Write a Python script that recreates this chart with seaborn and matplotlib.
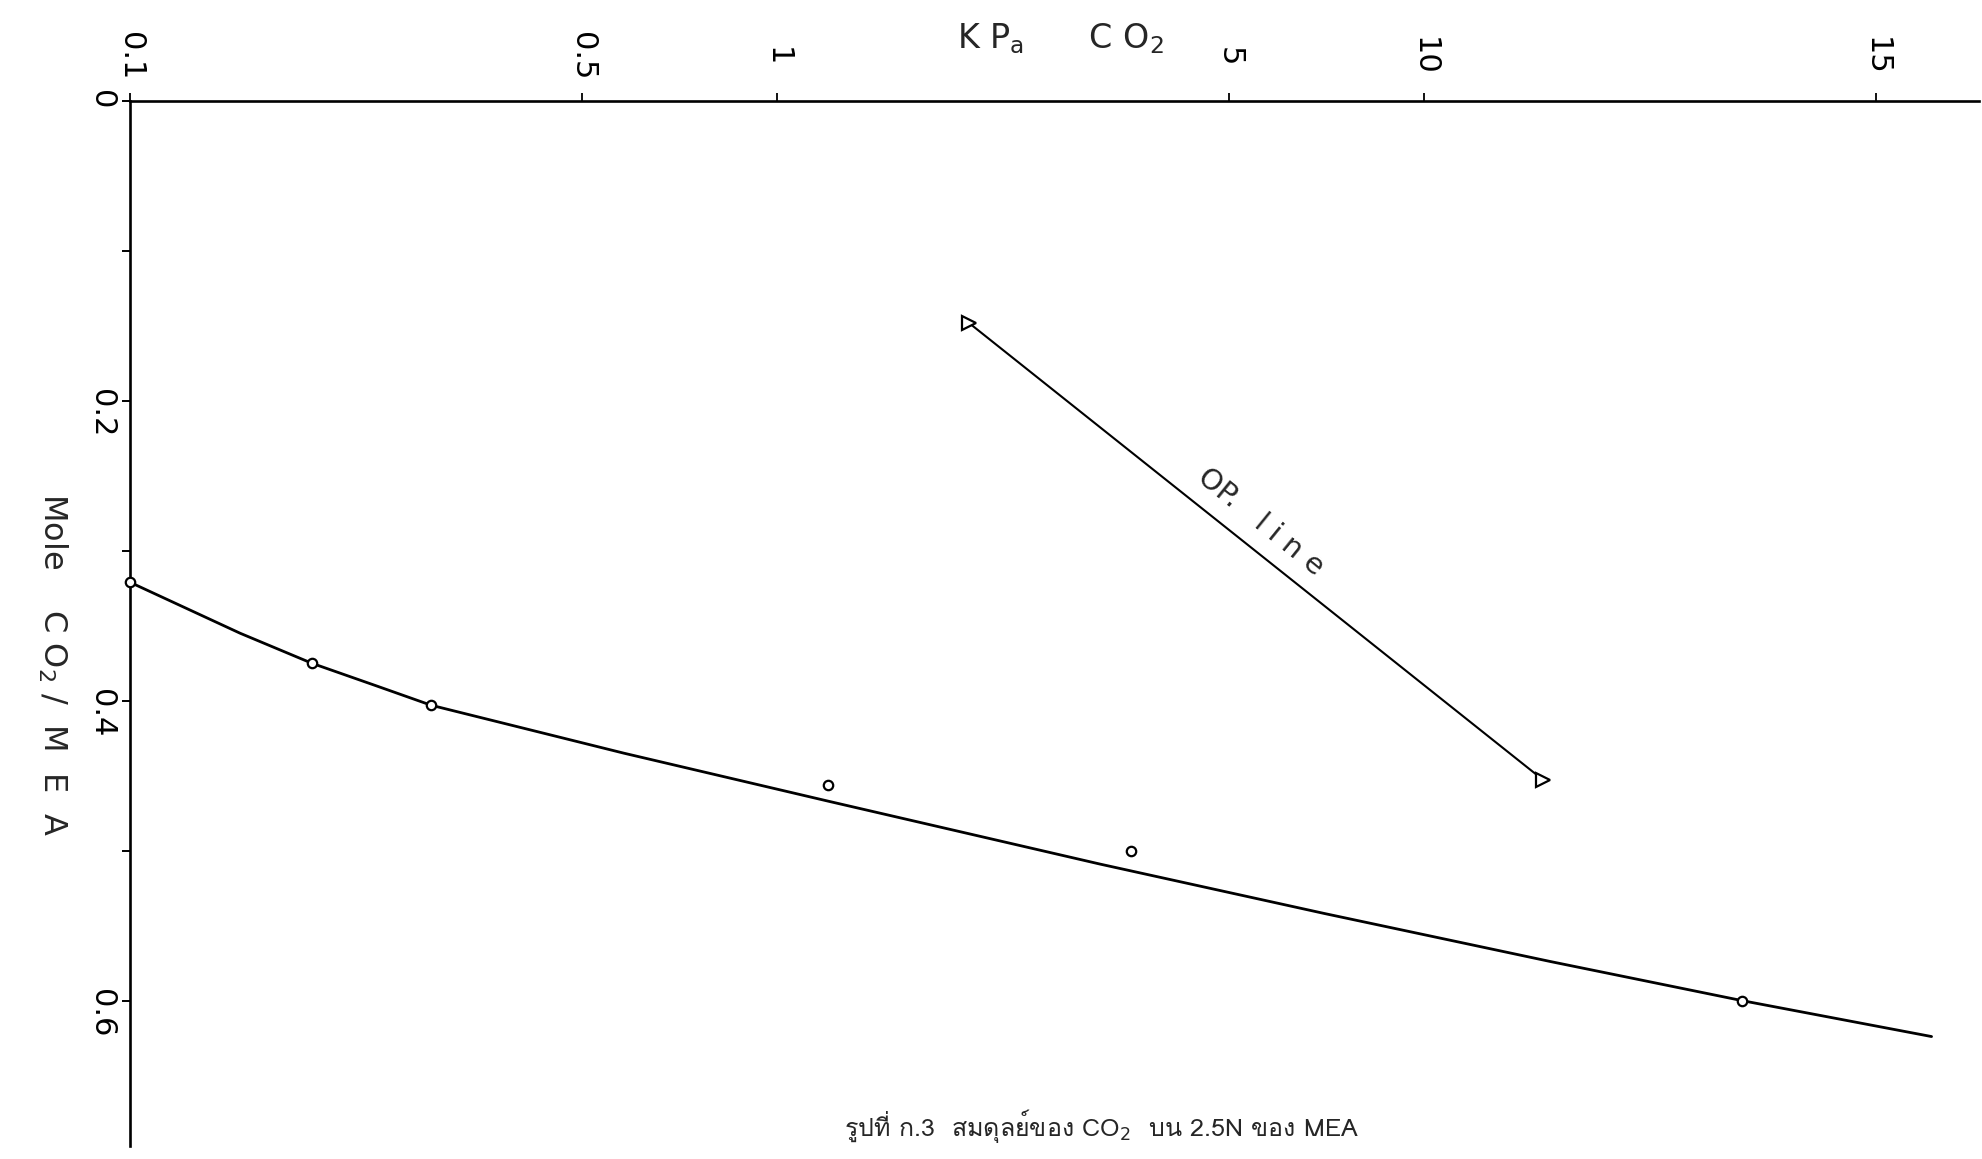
import numpy as np
import pandas as pd
import matplotlib
matplotlib.use("Agg")
import matplotlib.pyplot as plt
import seaborn as sns
from matplotlib import font_manager, ft2font
from matplotlib.ticker import FixedLocator, NullLocator

# Measured equilibrium points: CO2 partial pressure (kPa) vs loading (mol CO2 / mol MEA)
eq_pressure = [0.1, 0.191, 0.292, 1.20, 3.53, 31.0]
eq_loading = [0.321, 0.375, 0.403, 0.456, 0.500, 0.600]

# Smoothed equilibrium curve
curve_pressure = [0.1, 0.148, 0.191, 0.240, 0.292, 0.580, 1.20, 3.16, 7.03, 15.7, 31.0, 60.9]
curve_loading = [0.321, 0.355, 0.375, 0.390, 0.403, 0.435, 0.467, 0.509, 0.542, 0.574, 0.600, 0.624]

# Operating line end points
op_pressure = [1.98, 15.3]
op_loading = [0.148, 0.453]

# Axis ticks
x_ticks = [0.1, 0.5, 1, 5, 10, 50]
x_tick_labels = ["0.1", "0.5", "1", "5", "10", "15"]
y_ticks = [0, 0.1, 0.2, 0.3, 0.4, 0.5, 0.6]
y_tick_labels = ["0", "", "0.2", "", "0.4", "", "0.6"]

caption = "รูปที่ ก.3  สมดุลย์ของ CO$_2$  บน 2.5N ของ MEA"


def family_with(ch):
    """Return the first installed font family that has a glyph for ch."""
    seen = set()
    for f in font_manager.fontManager.ttflist:
        if f.fname in seen:
            continue
        seen.add(f.fname)
        try:
            if ord(ch) in ft2font.FT2Font(f.fname).get_charmap():
                return f.name
        except Exception:
            pass
    return None


sns.set_style("white")
plt.rcParams["font.family"] = ["DejaVu Sans"]
plt.rcParams["mathtext.fontset"] = "dejavusans"

W, H = 1983, 1159
fig = plt.figure(figsize=(W / 100, H / 100), dpi=100)
left_px, right_px, top_px, bottom_px = 130, 1979, 101, 1146
ax = fig.add_axes([left_px / W, 1 - bottom_px / H,
                   (right_px - left_px) / W, (bottom_px - top_px) / H])
ax.set_xscale("log")

eq = pd.DataFrame({"p": eq_pressure, "a": eq_loading})
curve = pd.DataFrame({"p": curve_pressure, "a": curve_loading})
op = pd.DataFrame({"p": op_pressure, "a": op_loading})

sns.lineplot(data=curve, x="p", y="a", sort=False, estimator=None,
             color="black", linewidth=2.0, ax=ax, clip_on=False)
sns.lineplot(data=op, x="p", y="a", sort=False, estimator=None,
             color="black", linewidth=1.5, marker=">", markersize=10,
             markerfacecolor="white", markeredgecolor="black",
             markeredgewidth=1.6, ax=ax)
sns.scatterplot(data=eq, x="p", y="a", marker="o", s=46, facecolor="white",
                edgecolor="black", linewidth=1.6, zorder=4, ax=ax, clip_on=False)

ax.set_xlim(0.1, 72.1)
ax.set_ylim(0.697, 0)

for side in ("right", "bottom"):
    ax.spines[side].set_visible(False)
for side in ("left", "top"):
    ax.spines[side].set_linewidth(1.9)
    ax.spines[side].set_color("black")

# Top log axis
ax.xaxis.tick_top()
ax.xaxis.set_major_locator(FixedLocator(x_ticks))
ax.xaxis.set_minor_locator(NullLocator())
ax.set_xticks(x_ticks, x_tick_labels)
ax.tick_params(axis="x", which="major", direction="out", length=6, width=1.3,
               top=True, bottom=False, labeltop=True, labelbottom=False,
               labelsize=22, labelrotation=270, pad=26, colors="black")
for lbl in ax.get_xticklabels():
    lbl.set_verticalalignment("center")
    lbl.set_horizontalalignment("center")

# Left linear axis, inverted
ax.set_yticks(y_ticks, y_tick_labels)
ax.yaxis.set_minor_locator(NullLocator())
ax.tick_params(axis="y", which="major", direction="out", length=6, width=1.4,
               left=True, right=False, colors="black",
               labelsize=22, labelrotation=270, pad=4)

ax.set_xlabel(r"K P$_\mathregular{a}$      C O$_\mathregular{2}$", fontsize=24)
ax.xaxis.set_label_position("top")
ax.xaxis.label.set_verticalalignment("center")
ax.xaxis.set_label_coords(0.503, 1.06)

ax.set_ylabel(r"Mole    C O$_\mathregular{2}$ /  M  E  A", fontsize=23,
              rotation=270, va="center", ha="center")
ax.yaxis.set_label_coords(-0.0416, 0.461)

ax.text(5.6, 0.281, "OP.   l i n e", fontsize=21, rotation=-39,
        rotation_mode="anchor", ha="center", va="center")

thai = family_with("ร")
fams = [thai, "DejaVu Sans"] if thai else ["DejaVu Sans"]
fig.text(1102 / W, 1 - 1126 / H, caption, fontsize=18, family=fams,
         ha="center", va="center")

fig.savefig("out.png", dpi=100, facecolor="white")
